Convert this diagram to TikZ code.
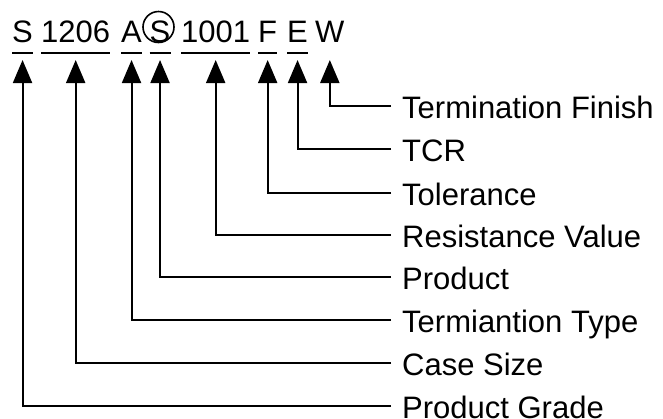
\documentclass[tikz,border=0pt]{standalone}
\usepackage{fontspec}
\setmainfont{Liberation Sans}
\usetikzlibrary{arrows.meta}
\begin{document}
\begin{tikzpicture}[x=1bp,y=-1bp,
  every node/.style={font=\fontsize{31bp}{38bp}\selectfont},
  code/.style={anchor=base west, inner sep=0pt, text depth=11bp},
  lab/.style={anchor=west, inner xsep=11bp, inner ysep=0pt, text height=25bp, text depth=0pt},
  bar/.style={line width=2bp},
  conn/.style={line width=2bp, -{Triangle[length=23bp,width=19bp]}}
]
\useasboundingbox (0,0) rectangle (663,418);
\coordinate (tipline) at (0,60);
% part number
\node[code] (cS) at (12,42) {S};
\node[code] (c1206) at (41,42) {1206};
\node[code] (cA) at (121,42) {A};
\node[code] (cSc) at (149.5,42) {S};
\node[code] (c1001) at (181,42) {1001};
\node[code] (cF) at (258,42) {F};
\node[code] (cE) at (287,42) {E};
\node[code] (cW) at (315,42) {W};
\draw[line width=1.6bp] (158.5,27) circle (15.5);
\foreach \n in {cS,c1206,cA,cSc,c1001,cF,cE}
  \draw[bar] (\n.south west) -- (\n.south east);
% labels
\node[lab] (lW) at (391,106) {Termination Finish};
\node[lab] (lE) at (391,149) {TCR};
\node[lab] (lF) at (391,193) {Tolerance};
\node[lab] (l1001) at (391,235) {Resistance Value};
\node[lab] (lSc) at (391,277) {Product};
\node[lab] (lA) at (391,320) {Termiantion Type};
\node[lab] (l1206) at (391,363) {Case Size};
\node[lab] (lS) at (391,406) {Product Grade};
% connectors
\draw[conn] (lW.west) -| (cW |- tipline);
\draw[conn] (lE.west) -| (cE |- tipline);
\draw[conn] (lF.west) -| (cF |- tipline);
\draw[conn] (l1001.west) -| (c1001 |- tipline);
\draw[conn] (lSc.west) -| (cSc |- tipline);
\draw[conn] (lA.west) -| (cA |- tipline);
\draw[conn] (l1206.west) -| (c1206 |- tipline);
\draw[conn] (lS.west) -| (cS |- tipline);
\end{tikzpicture}
\end{document}
